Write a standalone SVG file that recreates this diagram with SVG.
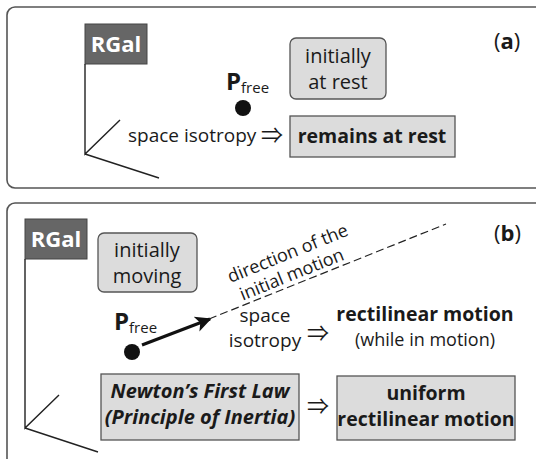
<svg xmlns="http://www.w3.org/2000/svg" width="536" height="459" viewBox="0 0 536 459">
<style>
text{font-family:"Open Sans","DejaVu Sans",sans-serif;fill:#1a1a1a}
.panel{fill:#fff;stroke:#555;stroke-width:1.6}
.frame{fill:#666;stroke:#444;stroke-width:1}
.rg{font-size:22px;font-weight:bold;fill:#fff}
.box{fill:#dcdcdc;stroke:#555;stroke-width:1.3}
.ax{fill:none;stroke:#222;stroke-width:1.4}
.t{font-size:19px}
.tb{font-size:20px}
.b{font-size:19.5px;font-weight:bold}
.bi{font-size:20px;font-weight:bold;font-style:italic}
.s{font-size:18px}
.arr{font-size:22px;font-family:"Noto Sans CJK JP","DejaVu Sans",sans-serif}
.lab{font-size:22px}
</style>
<defs>
<marker id="ah" viewBox="0 0 10 10" refX="9" refY="5" markerWidth="5.5" markerHeight="5" orient="auto" markerUnits="strokeWidth">
<path d="M0,0 L10,5 L0,10 L2.5,5 Z" fill="#111"/>
</marker>
</defs>
<rect width="536" height="459" fill="#fff"/>

<g id="panel-a">
<rect class="panel" x="7" y="7" width="545" height="181" rx="8"/>
<text class="lab" x="494" y="49">(<tspan font-weight="bold">a</tspan>)</text>
</g>
<g id="frame-a">
<rect class="frame" x="85" y="24" width="62" height="40"/>
<text class="rg" x="116" y="52" text-anchor="middle">RGal</text>
<path class="ax" d="M85,64 V154 L120,120 M85,154 L159,178"/>
</g>
<g id="pfree-a">
<text x="226" y="90"><tspan font-size="24" font-weight="bold">P</tspan><tspan font-size="15" dy="3">free</tspan></text>
<circle cx="243" cy="108" r="8" fill="#111"/>
</g>
<g id="rest-a">
<rect class="box" x="290" y="38" width="96" height="61" rx="6"/>
<text class="tb" x="338" y="63" text-anchor="middle">initially</text>
<text class="tb" x="338" y="89" text-anchor="middle">at rest</text>
</g>
<g id="iso-a">
<text class="t" x="128" y="142">space isotropy</text>
<text class="arr" x="272" y="143" text-anchor="middle">⇒</text>
</g>
<g id="remains-a">
<rect class="box" x="290" y="116" width="165" height="41"/>
<text class="b" x="372" y="143" text-anchor="middle">remains at rest</text>
</g>

<g id="panel-b">
<rect class="panel" x="7" y="203" width="545" height="275" rx="8"/>
<text class="lab" x="494" y="241">(<tspan font-weight="bold">b</tspan>)</text>
</g>
<g id="frame-b">
<rect class="frame" x="25" y="219" width="62" height="40"/>
<text class="rg" x="56" y="247" text-anchor="middle">RGal</text>
<path class="ax" d="M25,259 V428 L59,395 M25,428 L98,452"/>
</g>
<g id="moving-b">
<rect class="box" x="98" y="233" width="99" height="59" rx="6"/>
<text class="tb" x="147" y="257" text-anchor="middle">initially</text>
<text class="tb" x="147" y="283" text-anchor="middle">moving</text>
</g>
<g id="pfree-b">
<text x="114" y="330"><tspan font-size="24" font-weight="bold">P</tspan><tspan font-size="15" dy="3">free</tspan></text>
<circle cx="132" cy="352" r="8" fill="#111"/>
</g>
<g id="connectors">
<line x1="142" y1="345" x2="210" y2="319" stroke="#111" stroke-width="3.2" marker-end="url(#ah)"/>
<line x1="209" y1="319" x2="446" y2="224" stroke="#222" stroke-width="1.2" stroke-dasharray="8 4"/>
</g>
<g id="direction-label">
<text class="s" transform="translate(290,259) rotate(-22)" text-anchor="middle">direction of the</text>
<text class="s" transform="translate(294,280) rotate(-22)" text-anchor="middle">initial motion</text>
</g>
<g id="iso-b">
<text class="t" x="265" y="322" text-anchor="middle">space</text>
<text class="t" x="265" y="347" text-anchor="middle">isotropy</text>
<text class="arr" x="318" y="341" text-anchor="middle">⇒</text>
</g>
<g id="rect-b">
<text class="b" x="425" y="321" text-anchor="middle">rectilinear motion</text>
<text class="s" x="425" y="346" text-anchor="middle">(while in motion)</text>
</g>
<g id="newton-b">
<rect class="box" x="101" y="374" width="198" height="66"/>
<text class="bi" x="200" y="398" text-anchor="middle">Newton’s First Law</text>
<text class="bi" x="200" y="424" text-anchor="middle">(Principle of Inertia)</text>
<text class="arr" x="318" y="414" text-anchor="middle">⇒</text>
</g>
<g id="uniform-b">
<rect class="box" x="337" y="376" width="178" height="64"/>
<text class="b" x="426" y="400" text-anchor="middle">uniform</text>
<text class="b" x="426" y="426" text-anchor="middle">rectilinear motion</text>
</g>
</svg>
